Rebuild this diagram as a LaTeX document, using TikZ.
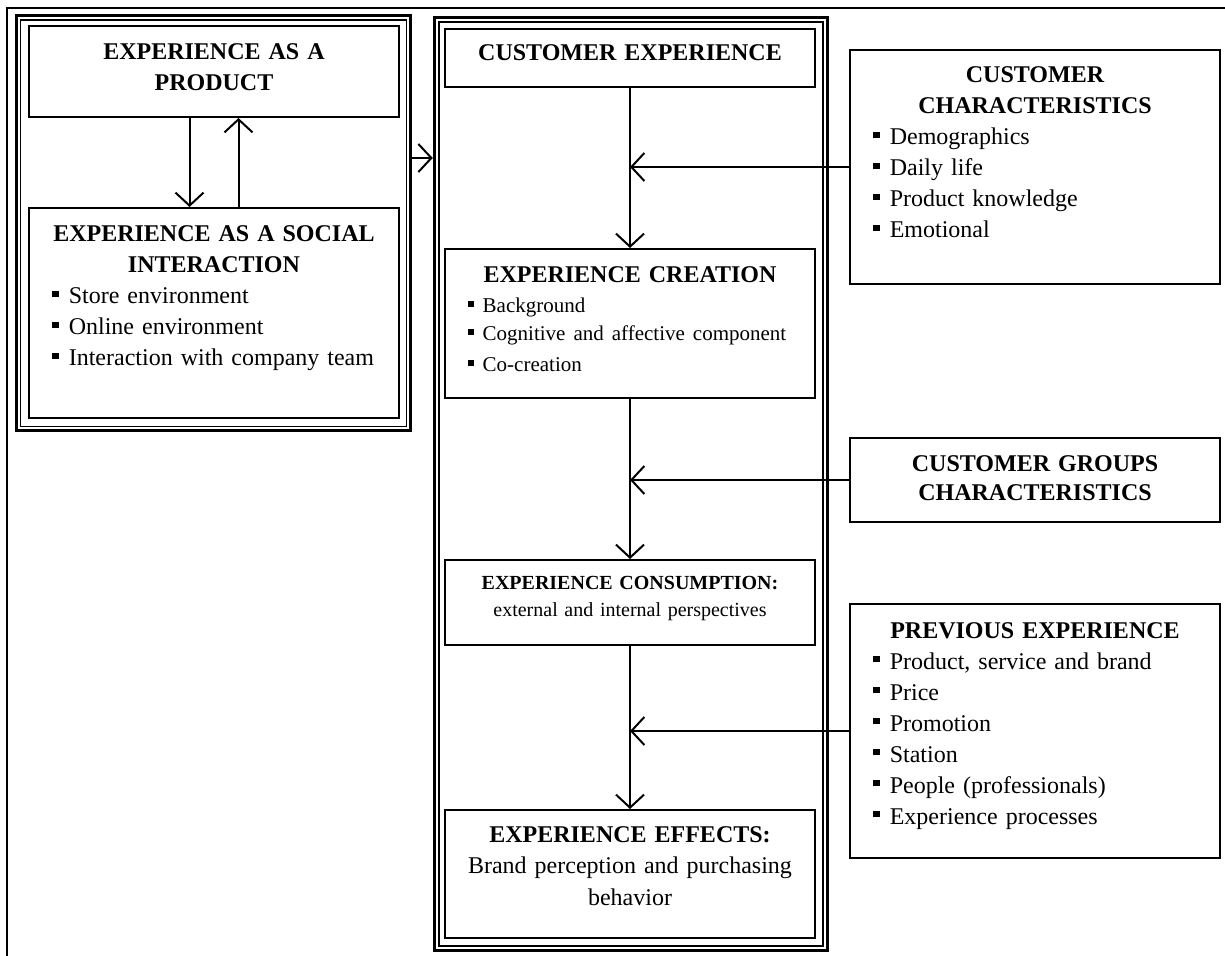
\documentclass[tikz,border=0pt]{standalone}
\usepackage{fontspec}
\setmainfont{Liberation Serif}
\usetikzlibrary{arrows.meta}

\newcommand{\sqb}{\rule[0.28em]{0.28em}{0.28em}\hspace{0.42em}}

\begin{document}
\begin{tikzpicture}[x=0.5pt, y=-0.5pt,
  box/.style={draw, line width=1pt, minimum width=185pt, inner sep=0pt},
  frame/.style={draw, line width=1.75pt, inner sep=0pt},
  thinframe/.style={line width=0.6pt},
  txt/.style={anchor=base, text width=162pt, inner sep=0pt, align=left, font=\fontsize{12}{15.5}\selectfont},
  head/.style={txt, align=center, font=\fontsize{12}{15.5}\selectfont\bfseries},
  arr/.style={-{Straight Barb[length=6.5pt, width=14pt]}, line width=1pt}]

 \useasboundingbox (0,0) rectangle (1225,956);

 %%%%%%%%%% Page border %%%%%%%%%%
 \draw [line width=1pt] (7,956) -- (7,8) -- (1225,8) ;

 %%%%%%%%%% Group frames %%%%%%%%%%
 \node [frame, minimum width=196.9pt, minimum height=207.6pt] (lframe) at (213.6,222.9) {};
 \draw [thinframe] (20.5,20) rectangle (406.5,426.5) ;
 \node [frame, minimum width=196.5pt, minimum height=466.5pt] (mframe) at (631,484) {};
 \draw [thinframe] (439,22) rectangle (823,946) ;

 %%%%%%%%%% Boxes %%%%%%%%%%
 \node [box, minimum height=45.5pt] (prod) at (214,71.5) {};
 \node [box, minimum height=105pt] (soc) at (214,313) {};
 \node [box, minimum height=29pt] (ce) at (630,58) {};
 \node [box, minimum height=74.5pt] (cr) at (630,323.5) {};
 \node [box, minimum height=42.5pt] (con) at (630,602.5) {};
 \node [box, minimum height=64pt] (eff) at (630,874) {};
 \node [box, minimum height=117pt] (cc) at (1035,167) {};
 \node [box, minimum height=42pt] (grp) at (1035,480) {};
 \node [box, minimum height=127pt] (prev) at (1035,731) {};

 %%%%%%%%%% Texts %%%%%%%%%%
 \node [head] (prodtxt) at (214,60) {EXPERIENCE AS A\\PRODUCT};
 \node [txt] (soctxt) at (214,242) {{\centering\bfseries EXPERIENCE AS A SOCIAL\\INTERACTION\par}
   \sqb Store environment\\ \sqb Online environment\\ \sqb Interaction with company team};
 \node [head] (cetxt) at (630,61) {CUSTOMER EXPERIENCE};
 \node [txt] (crtxt) at (630,283) {{\centering\bfseries EXPERIENCE CREATION\par}\vspace{1.2pt}
   \fontsize{10.5}{13.75}\selectfont \sqb Background\\ \sqb Cognitive and affective component\\ \sqb Co-creation};
 \node [head, font=\fontsize{10}{13.5}\selectfont\bfseries] (contxt) at (630,589) {EXPERIENCE CONSUMPTION:\\\mdseries external and internal perspectives};
 \node [head, font=\fontsize{12}{15.75}\selectfont\bfseries] (efftxt) at (630,842) {EXPERIENCE EFFECTS:\\\mdseries Brand perception and purchasing\\behavior};
 \node [txt] (cctxt) at (1035,83) {{\centering\bfseries CUSTOMER\\CHARACTERISTICS\par}
   \sqb Demographics\\ \sqb Daily life\\ \sqb Product knowledge\\ \sqb Emotional};
 \node [head, font=\fontsize{12}{14.2}\selectfont\bfseries] (grptxt) at (1035,472) {CUSTOMER GROUPS\\CHARACTERISTICS};
 \node [txt] (prevtxt) at (1035,638) {{\centering\bfseries PREVIOUS EXPERIENCE\par}
   \sqb Product, service and brand\\ \sqb Price\\ \sqb Promotion\\ \sqb Station\\ \sqb People (professionals)\\ \sqb Experience processes};

 %%%%%%%%%% Arrows %%%%%%%%%%
 \draw [arr] ([xshift=-12.25pt]prod.south) -- ([xshift=-12.25pt]soc.north) ;
 \draw [arr] ([xshift=12.25pt]soc.north) -- ([xshift=12.25pt]prod.south) ;
 \coordinate (j0) at (0,158);
 \draw [arr] (lframe.east |- j0) -- (mframe.west |- j0) ;

 \draw [arr] (ce) -- (cr) ;
 \draw [arr] (cr) -- (con) ;
 \draw [arr] (con) -- (eff) ;

 \coordinate (j1) at (ce.south |- cc.west);
 \coordinate (j2) at (ce.south |- grp.west);
 \coordinate (j3) at (ce.south |- prev.west);
 \draw [arr] (cc.west) -- (j1) ;
 \draw [arr] (grp.west) -- (j2) ;
 \draw [arr] (prev.west) -- (j3) ;

\end{tikzpicture}
\end{document}
